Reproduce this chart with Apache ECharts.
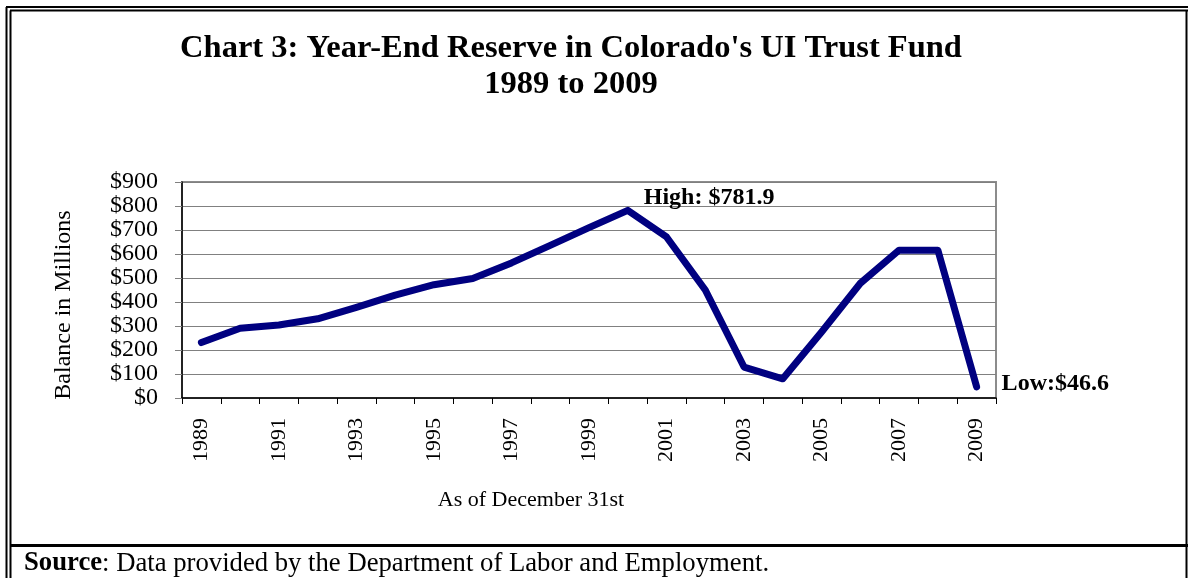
<!DOCTYPE html>
<html>
<head>
<meta charset="utf-8">
<script src="https://cdn.jsdelivr.net/npm/echarts@6/dist/echarts.min.js"></script>
<style>
html,body{margin:0;padding:0;background:#fff;}
#c{width:1188px;height:578px;}
</style>
</head>
<body>
<div id="c"></div>
<script>
const years = ['1989','1990','1991','1992','1993','1994','1995','1996','1997','1998','1999','2000','2001','2002','2003','2004','2005','2006','2007','2008','2009'];
const balance = [231, 291, 304, 330, 378, 429, 472, 498, 563, 636, 710, 781.9, 671, 450, 129, 80, 275, 478, 616, 616, 46.6];
const yTicks = [0, 100, 200, 300, 400, 500, 600, 700, 800, 900];
const titleLines = ["Chart 3: Year-End Reserve in Colorado's UI Trust Fund", "1989 to 2009"];
const highIndex = 11, lowIndex = 20;

const serif = "'Liberation Serif', 'Times New Roman', serif";
const chart = echarts.init(document.getElementById('c'), null, {renderer: 'canvas'});

const annLabel = {fontFamily: serif, fontWeight: 'bold', fontSize: 24, color: '#000'};

chart.setOption({
  animation: false,
  backgroundColor: '#fff',
  title: {
    text: titleLines.join('\n'),
    left: 566, top: 26, textAlign: 'center',
    textStyle: {fontFamily: serif, fontWeight: 'bold', fontSize: 32.5, lineHeight: 36, color: '#000'}
  },
  grid: {left: 182, right: 192, top: 182, bottom: 180, show: true, borderColor: '#8c8c8c', borderWidth: 2},
  xAxis: {
    type: 'category', data: years, boundaryGap: true,
    name: 'As of December 31st', nameLocation: 'middle', nameGap: 91,
    nameTextStyle: {fontFamily: serif, fontSize: 22, color: '#000', padding: [0, 116, 0, 0]},
    axisLine: {lineStyle: {color: '#000', width: 1.5}},
    axisTick: {show: true, interval: 0, length: 6, lineStyle: {color: '#000'}},
    axisLabel: {interval: 1, rotate: 90, margin: 20, fontFamily: serif, fontSize: 22, color: '#000'},
    splitLine: {show: false}
  },
  yAxis: {
    type: 'value', min: yTicks[0], max: yTicks[yTicks.length - 1], interval: 100,
    name: 'Balance in Millions', nameLocation: 'middle', nameGap: 106,
    nameTextStyle: {fontFamily: serif, fontSize: 24, color: '#000', padding: [0, 30, 0, 0]},
    axisLine: {show: true, lineStyle: {color: '#000', width: 1.5}},
    axisTick: {show: true, length: 7, lineStyle: {color: '#808080'}},
    axisLabel: {margin: 24, fontFamily: serif, fontSize: 24, color: '#000', formatter: v => '$' + v},
    splitLine: {show: true, lineStyle: {color: '#808080', width: 1}}
  },
  series: [{
    type: 'line', data: balance, symbol: 'none', silent: true,
    lineStyle: {color: '#000080', width: 7, join: 'round', cap: 'round'},
    itemStyle: {color: '#000080'},
    markPoint: {
      symbol: 'circle', symbolSize: 0, silent: true,
      data: [
        {coord: [highIndex, balance[highIndex]],
          label: Object.assign({show: true, position: 'right', distance: 0, offset: [16, -13],
            formatter: 'High: $' + balance[highIndex].toFixed(1)}, annLabel)},
        {coord: [lowIndex, balance[lowIndex]],
          label: Object.assign({show: true, position: 'right', distance: 0, offset: [25, -3],
            formatter: 'Low:$' + balance[lowIndex].toFixed(1)}, annLabel)}
      ]
    }
  }],
  graphic: [
    {type: 'line', shape: {x1: 6.5, y1: 7, x2: 6.5, y2: 578}, style: {stroke: '#000', lineWidth: 2}},
    {type: 'line', shape: {x1: 10.5, y1: 10.5, x2: 10.5, y2: 578}, style: {stroke: '#000', lineWidth: 2}},
    {type: 'line', shape: {x1: 6, y1: 7, x2: 1188, y2: 7}, style: {stroke: '#000', lineWidth: 2}},
    {type: 'line', shape: {x1: 10, y1: 10.5, x2: 1188, y2: 10.5}, style: {stroke: '#000', lineWidth: 2}},
    {type: 'line', shape: {x1: 1186.5, y1: 10, x2: 1186.5, y2: 578}, style: {stroke: '#000', lineWidth: 2}},
    {type: 'line', shape: {x1: 10, y1: 545.5, x2: 1188, y2: 545.5}, style: {stroke: '#000', lineWidth: 3}},
    {type: 'text', left: 24, top: 550, style: {
      text: '{b|Source}: Data provided by the Department of Labor and Employment.',
      rich: {b: {fontFamily: serif, fontWeight: 'bold', fontSize: 26.7, fill: '#000'}},
      font: "26.7px 'Liberation Serif', serif", fill: '#000'
    }}
  ]
});
</script>
</body>
</html>
